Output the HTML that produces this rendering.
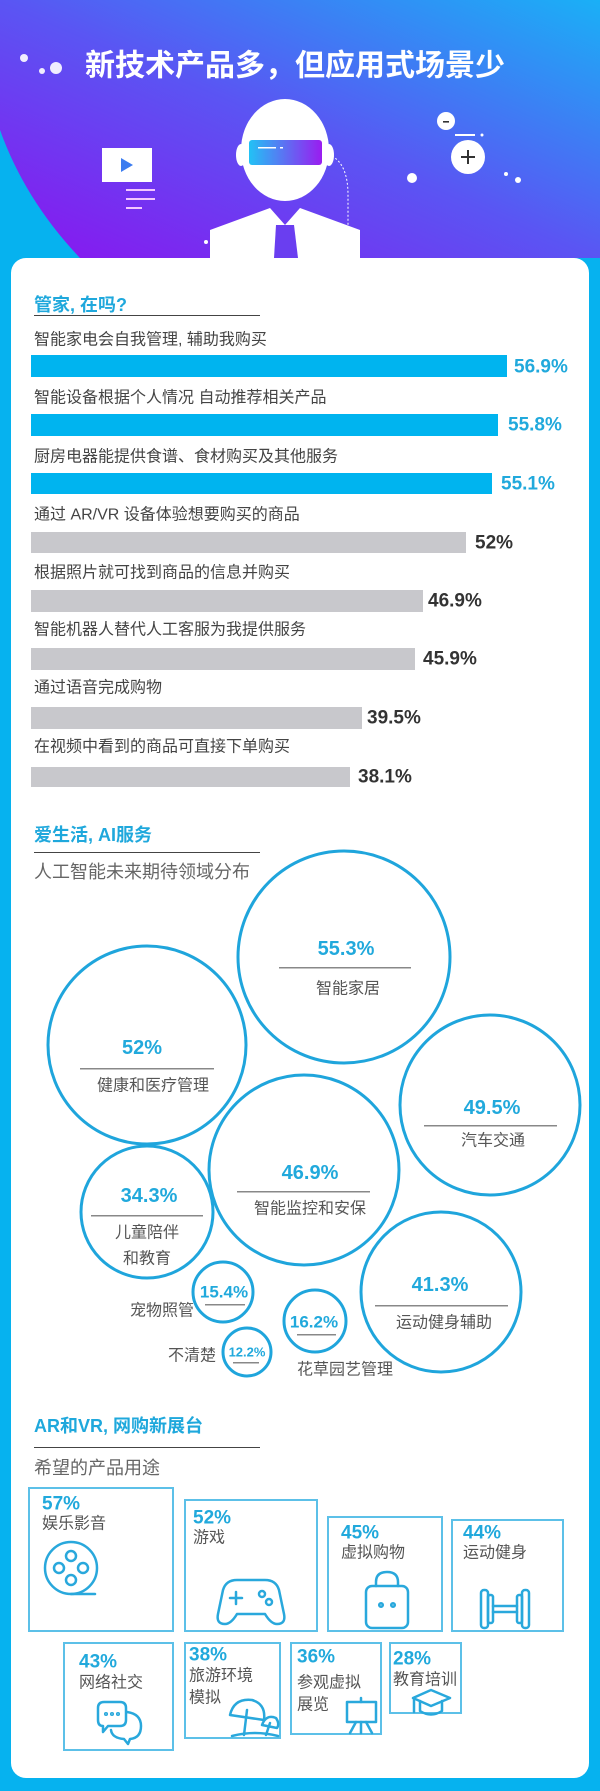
<!DOCTYPE html>
<html><head><meta charset="utf-8"><style>
html,body{margin:0;padding:0;background:#06b2ef;}
svg{display:block;}
text{font-family:"Liberation Sans","Noto Sans CJK SC",sans-serif;}
</style></head><body>
<svg width="600" height="1791" viewBox="0 0 600 1791" xmlns="http://www.w3.org/2000/svg">
<defs>
<linearGradient id="hg" x1="0" y1="1" x2="1" y2="0">
<stop offset="0" stop-color="#8a14ef"/>
<stop offset="0.5" stop-color="#5a55f3"/>
<stop offset="1" stop-color="#1ab0f6"/>
</linearGradient>
<linearGradient id="vg" x1="0" y1="0" x2="1" y2="0">
<stop offset="0" stop-color="#22c2f5"/>
<stop offset="1" stop-color="#9a1cf0"/>
</linearGradient>
</defs>
<rect width="600" height="1791" fill="#06b2ef"/>
<path d="M0,0 H600 V258 H80 Q25,200 0,130 Z" fill="url(#hg)"/>
<!-- title -->
<text x="295" y="66" font-size="30" font-weight="bold" fill="#fff" text-anchor="middle" dominant-baseline="central">新技术产品多，但应用式场景少</text>
<circle cx="24" cy="58" r="4" fill="#fff" opacity="0.9"/>
<circle cx="42" cy="71" r="3" fill="#fff" opacity="0.9"/>
<circle cx="56" cy="68" r="6" fill="#fff" opacity="0.9"/>
<!-- play screen -->
<rect x="102" y="148" width="50" height="34" fill="#fff"/>
<path d="M121,158 L133,165 L121,172 Z" fill="#3b7cf0"/>
<rect x="126" y="189" width="29" height="2" fill="#f3c6ff"/>
<rect x="126" y="198" width="29" height="2" fill="#f3c6ff"/>
<rect x="126" y="207" width="16" height="2" fill="#f3c6ff"/>
<!-- robot -->
<path d="M210,230 L270,208 L285,225 L300,208 L360,230 L360,258 L210,258 Z" fill="#fff"/>
<path d="M276,225 L294,225 L298,258 L274,258 Z" fill="#6a3ef0"/>
<ellipse cx="285" cy="150" rx="44" ry="51" fill="#fff"/>
<ellipse cx="241" cy="155" rx="5" ry="11" fill="#fff"/>
<ellipse cx="329" cy="155" rx="5" ry="11" fill="#fff"/>
<rect x="249" y="140" width="73" height="25" rx="3" fill="url(#vg)"/>
<rect x="258" y="147" width="18" height="1.5" fill="#fff"/>
<rect x="280" y="147" width="3" height="1.5" fill="#fff"/>
<path d="M332,156 Q348,165 348,195 L348,225" fill="none" stroke="#fff" stroke-width="1" stroke-dasharray="2,2"/>
<!-- plus minus -->
<circle cx="446" cy="121" r="9" fill="#fff"/>
<rect x="443" y="121" width="6" height="1.6" fill="#333"/>
<rect x="455" y="134" width="20" height="2" fill="#fff"/>
<circle cx="482" cy="135" r="1.5" fill="#fff"/>
<circle cx="468" cy="157" r="17" fill="#fff"/>
<rect x="461" y="156" width="14" height="2" fill="#333"/>
<rect x="467" y="150" width="2" height="14" fill="#333"/>
<circle cx="412" cy="178" r="5" fill="#fff"/>
<circle cx="506" cy="174" r="2" fill="#fff"/>
<circle cx="518" cy="180" r="3" fill="#fff"/>
<circle cx="206" cy="242" r="2" fill="#fff"/>
<!-- card -->
<rect x="11" y="258" width="578" height="1520" rx="15" fill="#fff"/>

<!-- section 1 -->
<text x="34" y="305" font-size="18" font-weight="bold" fill="#1fa8dc" dominant-baseline="central">管家, 在吗?</text>
<rect x="34" y="315" width="226" height="1" fill="#444"/>
<g font-size="16" fill="#444" dominant-baseline="central">
<text x="34" y="340">智能家电会自我管理, 辅助我购买</text>
<text x="34" y="398">智能设备根据个人情况 自动推荐相关产品</text>
<text x="34" y="457">厨房电器能提供食谱、食材购买及其他服务</text>
<text x="34" y="515">通过 AR/VR 设备体验想要购买的商品</text>
<text x="34" y="573">根据照片就可找到商品的信息并购买</text>
<text x="34" y="630">智能机器人替代人工客服为我提供服务</text>
<text x="34" y="688">通过语音完成购物</text>
<text x="34" y="747">在视频中看到的商品可直接下单购买</text>
</g>
<rect x="31" y="355" width="476" height="22" fill="#00b4ef"/>
<rect x="31" y="414" width="467" height="22" fill="#00b4ef"/>
<rect x="31" y="473" width="461" height="21" fill="#00b4ef"/>
<rect x="31" y="532" width="435" height="21" fill="#c8c8cc"/>
<rect x="31" y="590" width="392" height="22" fill="#c8c8cc"/>
<rect x="31" y="648" width="384" height="22" fill="#c8c8cc"/>
<rect x="31" y="707" width="331" height="22" fill="#c8c8cc"/>
<rect x="31" y="767" width="319" height="20" fill="#c8c8cc"/>
<g font-size="19" font-weight="bold" dominant-baseline="central">
<text x="514" y="367" fill="#21a9dc">56.9%</text>
<text x="508" y="425" fill="#21a9dc">55.8%</text>
<text x="501" y="484" fill="#21a9dc">55.1%</text>
<text x="475" y="543" fill="#333">52%</text>
<text x="428" y="601" fill="#333">46.9%</text>
<text x="423" y="659" fill="#333">45.9%</text>
<text x="367" y="718" fill="#333">39.5%</text>
<text x="358" y="777" fill="#333">38.1%</text>
</g>

<!-- section 2 -->
<text x="34" y="835" font-size="18" font-weight="bold" fill="#1fa8dc" dominant-baseline="central">爱生活, AI服务</text>
<rect x="34" y="852" width="226" height="1" fill="#444"/>
<text x="34" y="872" font-size="18" fill="#666" dominant-baseline="central">人工智能未来期待领域分布</text>
<g fill="none" stroke="#1fa5dc" stroke-width="3">
<circle cx="344" cy="957" r="106"/>
<circle cx="147" cy="1045" r="99"/>
<circle cx="490" cy="1105" r="90"/>
<circle cx="304" cy="1170" r="95"/>
<circle cx="147" cy="1212" r="66"/>
<circle cx="441" cy="1292" r="80"/>
<circle cx="223" cy="1292" r="30"/>
<circle cx="315" cy="1321" r="31"/>
<circle cx="247" cy="1352" r="24"/>
</g>
<g fill="#888">
<rect x="279" y="967" width="132" height="1.5"/>
<rect x="80" y="1068" width="134" height="1.5"/>
<rect x="424" y="1125" width="133" height="1.5"/>
<rect x="237" y="1191" width="133" height="1.5"/>
<rect x="91" y="1215" width="112" height="1.5"/>
<rect x="375" y="1305" width="133" height="1.5"/>
<rect x="205" y="1304" width="40" height="1.5"/>
<rect x="297" y="1334" width="39" height="1.5"/>
<rect x="233" y="1362" width="26" height="1.5"/>
</g>
<g font-weight="bold" fill="#21a9dc" text-anchor="middle" dominant-baseline="central">
<text x="346" y="949" font-size="20">55.3%</text>
<text x="142" y="1048" font-size="20">52%</text>
<text x="492" y="1108" font-size="20">49.5%</text>
<text x="310" y="1173" font-size="20">46.9%</text>
<text x="149" y="1196" font-size="20">34.3%</text>
<text x="440" y="1285" font-size="20">41.3%</text>
<text x="224" y="1292" font-size="17">15.4%</text>
<text x="314" y="1322" font-size="17">16.2%</text>
<text x="247" y="1352" font-size="13">12.2%</text>
</g>
<g font-size="16" fill="#555" text-anchor="middle" dominant-baseline="central">
<text x="348" y="989">智能家居</text>
<text x="153" y="1086">健康和医疗管理</text>
<text x="493" y="1141">汽车交通</text>
<text x="310" y="1209">智能监控和安保</text>
<text x="147" y="1233">儿童陪伴</text>
<text x="147" y="1259">和教育</text>
<text x="444" y="1323">运动健身辅助</text>
<text x="162" y="1311">宠物照管</text>
<text x="345" y="1370">花草园艺管理</text>
<text x="192" y="1356">不清楚</text>
</g>

<!-- section 3 -->
<text x="34" y="1426" font-size="18" font-weight="bold" fill="#1fa8dc" dominant-baseline="central">AR和VR, 网购新展台</text>
<rect x="34" y="1447" width="226" height="1" fill="#444"/>
<text x="34" y="1468" font-size="18" fill="#666" dominant-baseline="central">希望的产品用途</text>
<g fill="none" stroke="#5cc0e8" stroke-width="2">
<rect x="29" y="1488" width="144" height="143"/>
<rect x="185" y="1500" width="132" height="131"/>
<rect x="328" y="1517" width="114" height="114"/>
<rect x="452" y="1520" width="111" height="111"/>
<rect x="64" y="1643" width="109" height="107"/>
<rect x="185" y="1643" width="95" height="95"/>
<rect x="291" y="1643" width="90" height="91"/>
<rect x="390" y="1643" width="71" height="70"/>
</g>
<g font-size="19" font-weight="bold" fill="#21a9dc" dominant-baseline="central">
<text x="42" y="1504">57%</text>
<text x="193" y="1518">52%</text>
<text x="341" y="1533">45%</text>
<text x="463" y="1533">44%</text>
<text x="79" y="1662">43%</text>
<text x="189" y="1655">38%</text>
<text x="297" y="1657">36%</text>
<text x="393" y="1659">28%</text>
</g>
<g font-size="16" fill="#555" dominant-baseline="central">
<text x="42" y="1524">娱乐影音</text>
<text x="193" y="1538">游戏</text>
<text x="341" y="1553">虚拟购物</text>
<text x="463" y="1553">运动健身</text>
<text x="79" y="1683">网络社交</text>
<text x="189" y="1676">旅游环境</text>
<text x="189" y="1698">模拟</text>
<text x="297" y="1683">参观虚拟</text>
<text x="297" y="1705">展览</text>
<text x="393" y="1680">教育培训</text>
</g>
<g fill="none" stroke="#29a8dc" stroke-width="2.5" stroke-linecap="round" stroke-linejoin="round">
<!-- reel -->
<circle cx="71" cy="1568" r="26"/>
<circle cx="71" cy="1556" r="5"/><circle cx="83" cy="1568" r="5"/><circle cx="71" cy="1580" r="5"/><circle cx="59" cy="1568" r="5"/>
<path d="M71,1594 H95"/>
<!-- gamepad -->
<path d="M223,1590 Q226,1580 237,1580 H265 Q276,1580 279,1590 L284,1614 Q286,1624 277,1624 Q271,1624 265,1614 H237 Q231,1624 225,1624 Q216,1624 218,1614 Z"/>
<path d="M230,1598 H242 M236,1592 V1604"/>
<circle cx="262" cy="1594" r="3"/><circle cx="269" cy="1602" r="3"/>
<!-- bag -->
<rect x="366" y="1586" width="42" height="42" rx="6"/>
<path d="M376,1586 V1582 Q376,1572 387,1572 Q398,1572 398,1582 V1586"/>
<circle cx="381" cy="1605" r="1.8"/><circle cx="393" cy="1605" r="1.8"/>
<!-- dumbbell -->
<rect x="481" y="1590" width="7" height="38" rx="3"/>
<rect x="488" y="1595" width="5" height="28" rx="2"/>
<rect x="522" y="1590" width="7" height="38" rx="3"/>
<rect x="517" y="1595" width="5" height="28" rx="2"/>
<path d="M493,1606 H517 M493,1612 H517"/>
<!-- chat -->
<path d="M104,1702 H120 Q126,1702 126,1708 V1720 Q126,1726 120,1726 H108 L103,1732 L103,1726 Q98,1726 98,1720 V1708 Q98,1702 104,1702 Z"/>
<path d="M127,1712 Q141,1714 141,1726 Q141,1738 130,1739 L128,1744 L124,1739 Q112,1738 111,1730"/>
<circle cx="106" cy="1714" r="0.8"/><circle cx="112" cy="1714" r="0.8"/><circle cx="118" cy="1714" r="0.8"/>
<!-- umbrella -->
<path d="M230,1715 Q234,1698 252,1700 Q266,1704 264,1720 Z"/>
<path d="M247,1710 L244,1735"/>
<path d="M262,1725 Q266,1714 276,1718 Q280,1724 277,1728 Z"/>
<path d="M270,1723 L266,1735"/>
<path d="M232,1736 Q255,1730 278,1736"/>
<!-- easel -->
<rect x="347" y="1702" width="29" height="20"/>
<path d="M361,1698 V1702 M356,1722 L350,1733 M366,1722 L372,1733 M361,1722 V1733"/>
<!-- cap -->
<path d="M413,1698 L431,1690 L450,1698 L431,1706 Z"/>
<path d="M420,1701 V1711 Q431,1718 442,1711 V1701"/>
<path d="M414,1699 V1712"/>
</g>
</svg>
</body></html>
